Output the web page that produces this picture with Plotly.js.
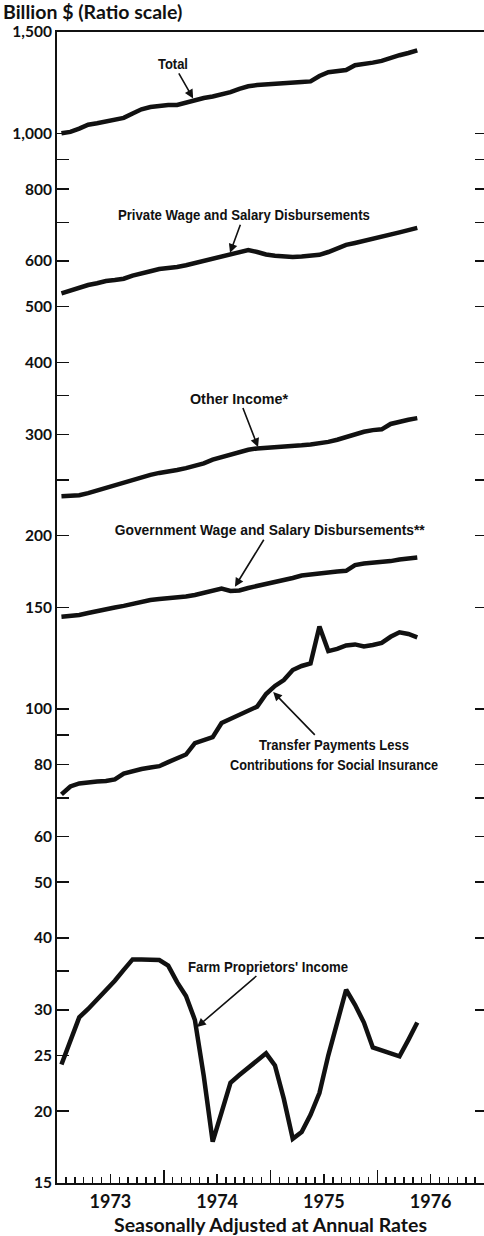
<!DOCTYPE html>
<html>
<head>
<meta charset="utf-8">
<script src="https://cdn.plot.ly/plotly-3.0.1.min.js"></script>
<style>
  html, body { margin: 0; padding: 0; background: #fff; }
  #chart { width: 484px; height: 1236px; }
</style>
</head>
<body>
<div id="chart"></div>
<script>
// Monthly data, January 1973 through May 1976 (billion $, seasonally adjusted annual rates)
const yearLabels = ['1973', '1974', '1975', '1976'];

const total = [1000, 1006, 1019, 1035, 1041, 1050, 1057, 1064, 1083, 1101, 1111, 1118,
               1120, 1120, 1132, 1142, 1152, 1159, 1169, 1179, 1195, 1207, 1213, 1215,
               1221, 1223, 1226, 1228, 1231, 1258, 1277, 1280, 1288, 1313, 1318, 1327,
               1336, 1353, 1367, 1379, 1394];

const privateWages = [527, 533, 540, 545, 549, 554, 556, 559, 566, 572, 576, 581,
                      583, 586, 590, 595, 600, 605, 612, 618, 623, 627, 622, 616,
                      613, 611, 610, 611, 612, 615, 622, 631, 640, 645, 650, 655,
                      661, 666, 673, 679, 685];

const otherIncome = [234, 234, 235, 237, 239.5, 243, 245, 247, 250, 253, 255, 257,
                     258, 260, 262, 264, 267, 271, 274, 276, 279, 282, 283.5, 284,
                     285, 285.6, 286, 287, 288, 289, 291, 293.5, 297, 300, 303, 305,
                     306, 312.6, 316, 318, 320];

const govWages = [144.6, 145, 145.6, 146.7, 148, 149, 150, 151, 152.4, 153.6, 154.6, 155.2,
                  155.6, 156.1, 156.7, 157.7, 159.3, 160.9, 161.8, 160.3, 160.6, 162.2, 163.4, 164.5,
                  165.7, 167, 168.8, 170.5, 171.3, 172.2, 172.7, 173.2, 173.7, 177.7, 178.8, 179.2,
                  179.6, 180.6, 181.7, 182.6, 183.2];

const transfers = [71.0, 73.3, 74.2, 74.6, 74.8, 74.9, 75.4, 77.2, 78, 78.6, 79.1, 79.5,
                   80.8, 82.1, 83.3, 87.2, 88.4, 89.3, 94.5, 96, 97.5, 99.1, 100.9, 106.1,
                   109.6, 112.2, 116.8, 118.7, 119.9, 139, 126, 127.1, 128.9, 129.4, 128.3, 129.1,
                   130.2, 133.4, 135.8, 134.9, 133.1];

const farmIncome = [24.1, 26.6, 29.1, 30.1, 31.2, 32.5, 33.7, 35.2, 36.7, 36.7, 36.7, 36.6,
                    35.8, 33.5, 31.7, 28.8, 23.0, 17.7, 19.9, 22.4, 23.1, 23.8, 24.4, 25.2,
                    24.0, 21.0, 17.9, 18.4, 19.7, 21.5, 25.0, 28.6, 32.5, 30.6, 28.5, 25.8,
                    25.5, 25.2, 24.9, 26.6, 28.5];

const yTickVals = [15, 20, 25, 30, 35, 40, 50, 60, 70, 80, 90, 100, 150, 200, 250, 300, 350,
                   400, 500, 600, 700, 800, 900, 1000, 1500];
const yTickText = ['15', '20', '25', '30', '', '40', '50', '60', '', '80', '', '100', '150', '200', '',
                   '300', '', '400', '500', '600', '', '800', '', '1,000', '1,500'];
const rightTickVals = [20, 30, 40, 50, 60, 70, 80, 100, 150, 200, 250, 300, 350, 400, 500,
                       600, 700, 800, 900, 1000];

// x positions: months since January 1973, plotted mid-month
const months = total.map((_, i) => i + 0.5);
const yearStarts = [0, 12, 24, 36, 48];
const midYears = yearLabels.map((_, i) => i * 12 + 6);

const lineStyle = { color: '#111', width: 4.5, shape: 'linear' };
function series(name, values) {
  return { type: 'scatter', mode: 'lines', name: name, x: months, y: values,
           line: lineStyle, hoverinfo: 'skip', showlegend: false, xaxis: 'x', yaxis: 'y' };
}

const data = [
  series('Total', total),
  series('Private Wage and Salary Disbursements', privateWages),
  series('Other Income*', otherIncome),
  series('Government Wage and Salary Disbursements**', govWages),
  series('Transfer Payments Less Contributions for Social Insurance', transfers),
  series("Farm Proprietors' Income", farmIncome)
];

const labelFont = { family: '"Liberation Sans Narrow", "Liberation Sans", Arial, sans-serif',
                    size: 15.5, color: '#111', weight: 700 };
const axisFont = { family: 'Lato, "DejaVu Sans", sans-serif', size: 16, color: '#111', weight: 700 };

// widths (px) of each printed label line in the condensed original type
const labelWidths = [[30], [252], [98], [310], [150, 208], [160]];

function label(text, x, y, ax, ay) {
  return { text: text, x: x, y: Math.log10(y), xref: 'x', yref: 'y', ax: ax, ay: ay,
           showarrow: true, arrowhead: 2, arrowsize: 1.1, arrowwidth: 1.6, arrowcolor: '#111',
           font: labelFont, align: 'center' };
}

const yRange = [Math.log10(15), Math.log10(1500)];

const layout = {
  width: 484, height: 1236,
  margin: { l: 57, r: 0, t: 32, b: 53 },
  paper_bgcolor: '#fff', plot_bgcolor: '#fff',
  showlegend: false,
  title: { text: 'Billion $ (Ratio scale)', x: 3 / 484, xanchor: 'left', xref: 'container',
           y: 1 - 12.5 / 1236, yanchor: 'middle', yref: 'container',
           font: Object.assign({}, axisFont, { size: 19.5 }) },
  xaxis: {
    range: [0, 48], showgrid: false, zeroline: false,
    showline: true, linecolor: '#111', linewidth: 2, mirror: true,
    tickmode: 'array', tickvals: yearStarts, ticks: 'inside', ticklen: 13, tickwidth: 1.5,
    tickcolor: '#111', showticklabels: false,
    minor: { tickmode: 'linear', tick0: 0, dtick: 1, ticks: 'inside', ticklen: 6,
             tickwidth: 1.5, tickcolor: '#111', showgrid: false }
  },
  xaxis2: {
    overlaying: 'x', anchor: 'y', side: 'bottom', range: [0, 48],
    showgrid: false, zeroline: false, showline: false,
    tickmode: 'array', tickvals: midYears, ticktext: yearLabels,
    ticks: 'inside', ticklen: 9, tickwidth: 1.5, tickcolor: '#111',
    tickfont: Object.assign({}, axisFont, { size: 18 }), ticklabelstandoff: 6,
    title: { text: 'Seasonally Adjusted at Annual Rates',
             font: Object.assign({}, axisFont, { size: 19.5 }), standoff: 12 }
  },
  yaxis: {
    type: 'log', range: yRange, showgrid: false, zeroline: false,
    showline: true, linecolor: '#111', linewidth: 2,
    tickmode: 'array', tickvals: yTickVals, ticktext: yTickText,
    ticks: 'inside', ticklen: 12, tickwidth: 1.5, tickcolor: '#111',
    tickfont: Object.assign({}, axisFont, { size: 15.5 })
  },
  yaxis2: {
    type: 'log', range: yRange, overlaying: 'y', side: 'right', anchor: 'x',
    showgrid: false, zeroline: false, showline: false,
    tickmode: 'array', tickvals: rightTickVals, ticks: 'inside', ticklen: 9,
    tickwidth: 1.5, tickcolor: '#111', showticklabels: false
  },
  annotations: [
    label('Total', 15.3, 1150, -20, -35),
    label('Private Wage and Salary Disbursements', 19.45, 620, 14, -38),
    label('Other Income*', 22.6, 285, -19, -49),
    label('Government Wage and Salary Disbursements**', 20.0, 163, 35, -57),
    label('Transfer Payments Less<br>Contributions for Social Insurance', 24.3, 107, 61, 63),
    label("Farm Proprietors' Income", 15.74, 28, 71, -61)
  ]
};

// empty traces so that the overlay axes are drawn
data.push({ type: 'scatter', mode: 'none', x: [], y: [], xaxis: 'x2', yaxis: 'y', hoverinfo: 'skip', showlegend: false });
data.push({ type: 'scatter', mode: 'none', x: [], y: [], xaxis: 'x', yaxis: 'y2', hoverinfo: 'skip', showlegend: false });

Plotly.newPlot('chart', data, layout, { staticPlot: true, displayModeBar: false }).then(function (gd) {
  // squeeze the label type to the condensed widths of the original
  const groups = gd.querySelectorAll('.annotation');
  groups.forEach(function (g, i) {
    const widths = labelWidths[i];
    if (!widths) return;
    const text = g.querySelector('text.annotation-text');
    if (!text) return;
    const lines = text.querySelectorAll('tspan.line');
    if (lines.length) {
      lines.forEach(function (t, j) {
        const w = widths[j] || widths[widths.length - 1];
        if (t.getComputedTextLength() > w) {
          t.setAttribute('textLength', w);
          t.setAttribute('lengthAdjust', 'spacingAndGlyphs');
        }
      });
    } else if (text.getComputedTextLength() > widths[0]) {
      text.setAttribute('textLength', widths[0]);
      text.setAttribute('lengthAdjust', 'spacingAndGlyphs');
    }
  });
});
</script>
</body>
</html>
